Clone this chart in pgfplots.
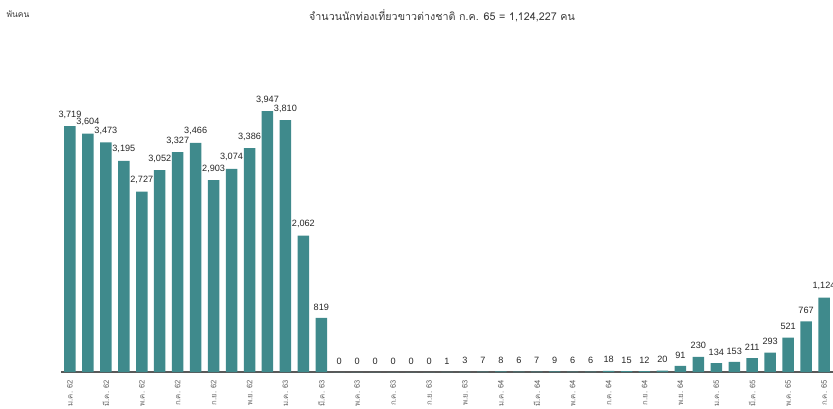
\documentclass[border=0pt]{standalone}
\usepackage{fontspec}
\setmainfont{Liberation Sans}
\newfontfamily\thaifont[Script=Thai]{Loma}
\usepackage{pgfplots}
\pgfplotsset{compat=1.18}
\definecolor{Bar}{HTML}{3F8A8C}
\definecolor{Ink}{HTML}{3A3A3A}
\definecolor{Tick}{HTML}{6A6A6A}

\begin{document}
\begin{tikzpicture}
% picture frame: 833 x 408 px at 0.02 cm per px, axis origin at px (61,372)
\path[use as bounding box] (-1.22,-0.72) rectangle (15.44,7.44);
\begin{axis}[
  scale only axis,width=15.44cm,height=6.612cm,
  xmin=-0.5,xmax=42.5,ymin=0,ymax=5000,
  axis y line=none,axis x line*=bottom,
  x axis line style={draw=black!65,line width=0.6pt},
  ybar,bar width=0.23cm,
  xtick={0,2,...,42},
  xticklabels={ม.ค. 62,มี.ค. 62,พ.ค. 62,ก.ค. 62,ก.ย. 62,พ.ย. 62,
    ม.ค. 63,มี.ค. 63,พ.ค. 63,ก.ค. 63,ก.ย. 63,พ.ย. 63,
    ม.ค. 64,มี.ค. 64,พ.ค. 64,ก.ค. 64,ก.ย. 64,พ.ย. 64,
    ม.ค. 65,มี.ค. 65,พ.ค. 65,ก.ค. 65},
  major tick length=0pt,
  xticklabel style={font=\thaifont\fontsize{4.4}{5}\selectfont,text=Tick,yshift=-3.2pt,rotate=90,anchor=east,inner sep=1pt},
  /pgf/number format/.cd,fixed,precision=0,1000 sep={,},assume math mode=true,
  /pgfplots/.cd,
  nodes near coords,
  every node near coord/.append style={font=\fontsize{5.2}{6}\selectfont,text=black!85,inner sep=0pt,yshift=4.2pt},
  clip=false
]
\addplot[draw=none,fill=Bar] coordinates {
  (0,3719)(1,3604)(2,3473)(3,3195)(4,2727)(5,3052)(6,3327)(7,3466)
  (8,2903)(9,3074)(10,3386)(11,3947)(12,3810)(13,2062)(14,819)
  (15,0)(16,0)(17,0)(18,0)(19,0)(20,0)
  (21,1)(22,3)(23,7)(24,8)(25,6)(26,7)(27,9)(28,6)(29,6)(30,18)
  (31,15)(32,12)(33,20)(34,91)(35,230)(36,134)(37,153)(38,211)
  (39,293)(40,521)(41,767)(42,1124)};
\end{axis}
\node[font=\thaifont\fontsize{6.1}{7}\selectfont,text=Ink] at (7.62,7.13) {จำนวนนักท่องเที่ยวขาวต่างชาติ ก.ค. 65 = 1,124,227 คน};
\node[font=\thaifont\fontsize{4.8}{5}\selectfont,text=Ink] at (-0.86,7.16) {พันคน};
\end{tikzpicture}
\end{document}
